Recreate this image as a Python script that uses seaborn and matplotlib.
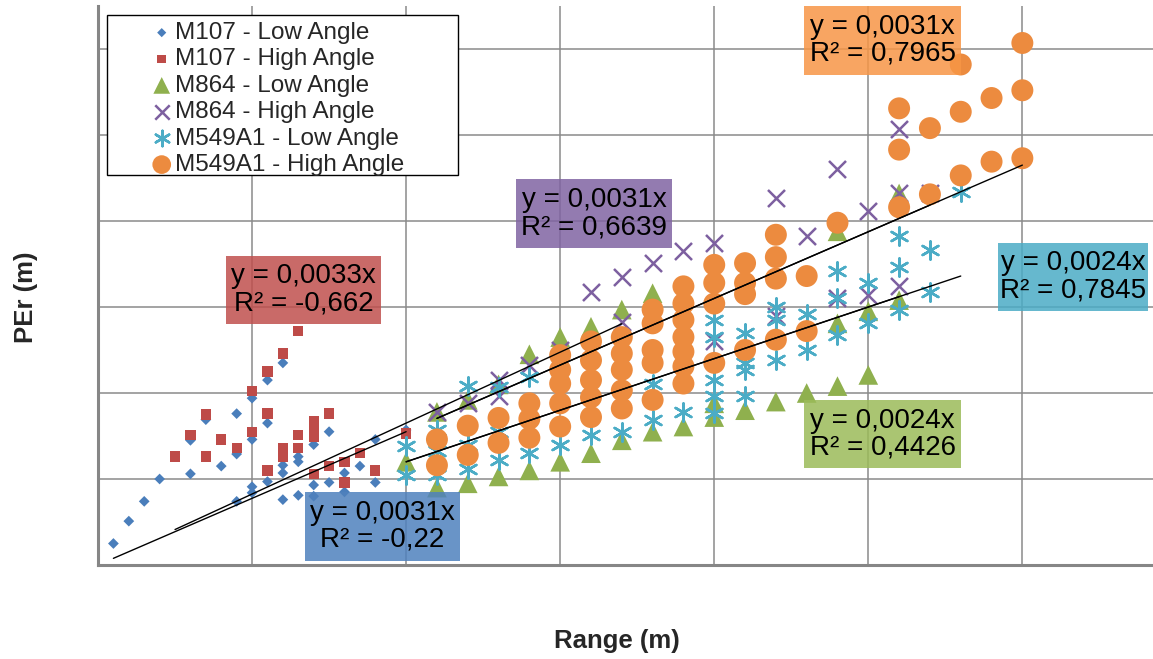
import matplotlib
matplotlib.use("Agg")
import matplotlib.pyplot as plt
from matplotlib.patches import Rectangle
import seaborn as sns
import numpy as np

# series names (legend order = draw order)
names = ["M107 - Low Angle", "M107 - High Angle", "M864 - Low Angle",
         "M864 - High Angle", "M549A1 - Low Angle", "M549A1 - High Angle"]

# ------------------------------
# data (Range in m, PEr in m)
# ------------------------------
m107_low_x = [25, 50, 75, 100, 150, 150, 175, 200, 225, 225, 225, 250, 250, 250, 250,
              275, 275, 275, 300, 300, 300, 300, 325, 325, 325, 350, 350, 350,
              375, 375, 400, 400, 425, 450, 450, 500]
m107_low_y = [0.25, 0.51, 0.74, 1.00, 1.06, 1.45, 1.69, 1.15, 1.76, 1.29, 0.74, 1.94, 1.46, 0.91, 0.84,
              2.15, 1.65, 0.97, 2.35, 1.16, 1.07, 0.76, 1.26, 1.20, 0.81, 1.40, 0.93, 0.80,
              1.55, 0.96, 1.07, 0.85, 1.15, 1.46, 0.96, 1.57]

m107_high_x = [125, 150, 175, 175, 200, 225, 250, 250, 275, 275, 275, 300, 300, 300,
               325, 325, 325, 350, 350, 350, 350, 375, 375, 400, 400, 425, 450, 500]
m107_high_y = [1.26, 1.51, 1.75, 1.26, 1.46, 1.36, 2.02, 1.55, 2.25, 1.76, 1.10, 2.46, 1.36, 1.26,
               2.72, 1.51, 1.36, 1.67, 1.57, 1.49, 1.06, 1.76, 1.15, 1.20, 0.96, 1.30, 1.10, 1.53]

m864_low_x = [500, 550, 550, 600, 600, 650, 650, 700, 700, 750, 750, 800, 800, 850, 850,
              900, 900, 950, 1000, 1000, 1050, 1100, 1150, 1200, 1200, 1200, 1250, 1250, 1300, 1300]
m864_low_y = [1.20, 1.78, 0.90, 1.92, 0.95, 2.10, 1.03, 2.45, 1.10, 2.65, 1.20, 2.77, 1.30, 2.97, 1.45,
              3.16, 1.55, 1.61, 1.88, 1.72, 1.80, 1.90, 2.00, 3.88, 2.81, 2.08, 2.95, 2.21, 4.32, 3.08]

m864_high_x = [550, 600, 650, 650, 700, 750, 800, 850, 850, 900, 950, 1000, 1000,
               1100, 1100, 1150, 1200, 1200, 1250, 1250, 1300, 1300, 1300, 1350]
m864_high_y = [1.78, 1.88, 2.15, 1.96, 2.33, 2.50, 3.17, 3.35, 2.83, 3.51, 3.65, 3.75, 2.60,
               4.27, 2.89, 3.82, 4.61, 3.11, 4.12, 3.14, 5.07, 4.32, 3.24, 4.32]

m549_low_x = [500, 500, 550, 550, 550, 600, 600, 600, 650, 650, 650, 700, 700, 750, 750,
              800, 850, 900, 900, 950, 950, 1000, 1000, 1000, 1000, 1000,
              1050, 1050, 1050, 1050, 1100, 1100, 1100, 1150, 1150, 1200, 1200, 1200,
              1250, 1250, 1300, 1300, 1300, 1350, 1350, 1400]
m549_low_y = [1.38, 1.05, 1.57, 1.32, 1.05, 2.08, 1.40, 1.12, 2.07, 1.55, 1.22, 2.19, 1.30, 1.62, 1.40,
              1.51, 1.55, 2.11, 1.69, 2.40, 1.78, 2.85, 2.65, 2.15, 1.96, 1.77,
              2.70, 2.35, 2.27, 1.96, 3.00, 2.85, 2.38, 2.92, 2.50, 3.42, 3.10, 2.67,
              3.28, 2.81, 3.82, 3.46, 2.97, 3.66, 3.18, 4.34]

m549_high_x = [550, 550, 600, 600, 650, 650, 700, 700, 700,
               750, 750, 750, 750, 750, 800, 800, 800, 800, 800,
               850, 850, 850, 850, 850, 900, 900, 900, 900, 900,
               950, 950, 950, 950, 950, 950, 950, 1000, 1000, 1000, 1000,
               1050, 1050, 1050, 1050, 1100, 1100, 1100, 1100, 1150, 1150, 1200,
               1300, 1300, 1300, 1350, 1350, 1400, 1400, 1400, 1450, 1450, 1500, 1500, 1500]
m549_high_y = [1.46, 1.16, 1.62, 1.28, 1.71, 1.42, 1.88, 1.70, 1.48,
               2.44, 2.27, 2.11, 1.88, 1.61, 2.60, 2.38, 2.15, 1.95, 1.72,
               2.65, 2.46, 2.27, 2.03, 1.82, 2.97, 2.81, 2.50, 2.35, 1.92,
               3.24, 3.04, 2.85, 2.65, 2.48, 2.31, 2.11, 3.49, 3.28, 3.04, 2.35,
               3.51, 3.28, 3.15, 2.50, 3.84, 3.58, 3.33, 2.62, 3.36, 2.72, 3.98,
               5.31, 4.83, 4.16, 5.08, 4.31, 5.82, 5.27, 4.53, 5.43, 4.69, 6.07, 5.52, 4.73]

# trend lines through origin (y = a*x), label values and x extents
slopes = [0.0031, 0.0033, 0.0024, 0.0031, 0.0024, 0.0031]
r2_labels = ["-0,22", "-0,662", "0,4426", "0,6639", "0,7845", "0,7965"]
trend_start = [25, 125, 500, 550, 500, 550]
trend_end = [500, 850, 1300, 1350, 1400, 1500]

series_x = [m107_low_x, m107_high_x, m864_low_x, m864_high_x, m549_low_x, m549_high_x]
series_y = [m107_low_y, m107_high_y, m864_low_y, m864_high_y, m549_low_y, m549_high_y]

# ------------------------------
# styles
# ------------------------------
colors = ["#4A7EBB", "#BE4B48", "#8FB04E", "#7D60A0", "#4BACC6", "#EC8B3F"]
box_colors = ["#4F81BD", "#C0504D", "#9BBB59", "#8064A2", "#4BACC6", "#F79646"]
markers = ["D", "s", "^", "x", (6, 2, 0), "o"]
sizes = [30, 55, 200, 150, 170, 250]
# label boxes in pixels: x0, y0, x1, y1 (image coords)
boxes = [(305, 492, 460, 561), (226, 256, 381, 324), (804, 400, 961, 468),
         (516, 179, 672, 248), (998, 243, 1148, 311), (804, 6, 961, 75)]

W, H = 1153, 659

sns.set_style("white")
plt.rcParams["font.family"] = ["Liberation Sans", "DejaVu Sans"]

fig = plt.figure(figsize=(W / 100, H / 100), dpi=100)
ax = fig.add_axes([98 / W, 1 - 565 / H, 1 - 98 / W, (565 - 6) / H])

for i in range(6):
    kw = dict(marker=markers[i], s=sizes[i], color=colors[i], label=names[i], zorder=2)
    if i in (3, 4):
        kw["linewidth"] = 1.8
    else:
        kw["edgecolor"] = "none"
        kw["linewidth"] = 0
    sns.scatterplot(x=series_x[i], y=series_y[i], ax=ax, **kw)

# trend lines
for i in range(6):
    tx = np.array([trend_start[i], trend_end[i]], dtype=float)
    sns.lineplot(x=tx, y=slopes[i] * tx, ax=ax, color="black", linewidth=1.0, zorder=3)

ax.set_xlim(0, 1712)
ax.set_ylim(0, 6.5)
ax.set_xticks(np.arange(0, 1501, 250))
ax.set_yticks(np.arange(0, 7, 1))
ax.grid(True, color="#8a8a8a", linewidth=1.1)
ax.tick_params(labelleft=False, labelbottom=False)
ax.tick_params(axis="y", length=4, color="#868686", width=1.2)
ax.tick_params(axis="x", length=0)
for s in ["top", "right"]:
    ax.spines[s].set_visible(False)
for s in ["left", "bottom"]:
    ax.spines[s].set_color("#868686")
    ax.spines[s].set_linewidth(2.2)

ax.set_xlabel("Range (m)", fontsize=18.5, fontweight="bold")
ax.set_ylabel("PEr (m)", fontsize=18.5, fontweight="bold")
ax.xaxis.set_label_coords((617 - 98) / 1055, (565 - 629) / 559)
ax.yaxis.set_label_coords((38 - 98) / 1055, (565 - 297) / 559)

# legend with its own square frame
frame = Rectangle((107 / W, 1 - 175 / H), (458 - 107) / W, (175 - 15) / H,
                  transform=fig.transFigure, facecolor="white", edgecolor="black",
                  linewidth=1.0, zorder=4.5, clip_on=False)
ax.add_patch(frame)
handles, labels = ax.get_legend_handles_labels()
leg = ax.legend(handles, labels, loc="upper left", bbox_to_anchor=(152 / W, 1 - 22 / H),
                bbox_transform=fig.transFigure, frameon=False, borderpad=0, borderaxespad=0,
                handlelength=0.8, handletextpad=0.15, labelspacing=0.18, markerscale=0.85,
                fontsize=17.5, scatterpoints=1)
leg.set_zorder(5)

# trend labels
for i in range(6):
    x0, y0, x1, y1 = boxes[i]
    ax.add_patch(Rectangle((x0 / W, 1 - y1 / H), (x1 - x0) / W, (y1 - y0) / H,
                           transform=fig.transFigure, facecolor=box_colors[i], alpha=0.85,
                           edgecolor="none", zorder=6, clip_on=False))
    txt = "y = " + f"{slopes[i]:.4f}".replace(".", ",") + "x\nR² = " + r2_labels[i]
    ax.text((x0 + x1) / 2 / W, 1 - (y0 + y1) / 2 / H, txt, transform=fig.transFigure,
            ha="center", va="center", multialignment="center", fontsize=20,
            linespacing=1.05, color="black", zorder=7)

fig.savefig("out.png", dpi=100)
